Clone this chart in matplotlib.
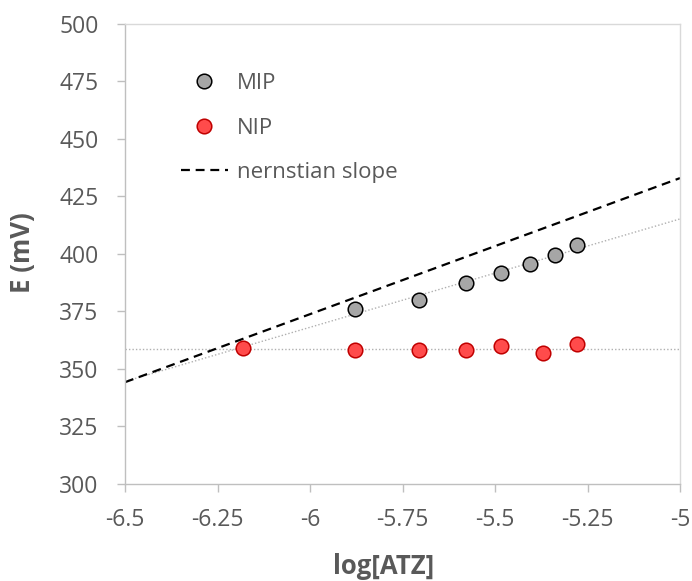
import numpy as np
import matplotlib
matplotlib.use("Agg")
import matplotlib.pyplot as plt
from matplotlib.lines import Line2D

plt.rcParams['font.family'] = ['Open Sans', 'DejaVu Sans']

# Data
mip_x = [-5.879, -5.705, -5.579, -5.483, -5.405, -5.338, -5.279]
mip_y = [376.0, 380.0, 387.3, 391.6, 395.7, 399.4, 403.9]
nip_x = [-6.180, -5.879, -5.705, -5.579, -5.483, -5.370, -5.279]
nip_y = [359.0, 358.3, 358.3, 358.3, 360.0, 356.8, 360.7]
nernst_slope = 59.16      # mV/decade
nernst_E_at_minus5 = 433.0
x_ticks = [-6.5, -6.25, -6, -5.75, -5.5, -5.25, -5]
x_tick_labels = ['-6.5', '-6.25', '-6', '-5.75', '-5.5', '-5.25', '-5']
y_ticks = [300, 325, 350, 375, 400, 425, 450, 475, 500]

text_col = '#595959'
fig = plt.figure(figsize=(6.92, 5.81), dpi=100)
ax = fig.add_axes([125/692, 1-484/581, 555/692, 460/581])

xr = np.array([-6.5, -5.0])
# trendlines
p_mip = np.polyfit(mip_x, mip_y, 1)
ax.plot(xr, np.polyval(p_mip, xr), color='#b0b0b0', lw=1.0, ls=(0, (1, 1.5)), zorder=1)
nip_mean = np.mean(nip_y)
ax.plot(xr, [nip_mean, nip_mean], color='#b0b0b0', lw=1.0, ls=(0, (1, 1.5)), zorder=1)
# nernstian slope
ax.plot(xr, nernst_E_at_minus5 + nernst_slope*(xr + 5), color='black', lw=1.6,
        ls=(0, (4, 2.6)), zorder=2)

ax.plot(mip_x, mip_y, 'o', ms=10.5, mfc='#a6a6a6', mec='black', mew=1.1, zorder=3)
ax.plot(nip_x, nip_y, 'o', ms=10.5, mfc='#ff4b4b', mec='#c00000', mew=1.1, zorder=3)

ax.set_xlim(-6.5, -5)
ax.set_ylim(300, 500)
ax.set_xticks(x_ticks)
ax.set_xticklabels(x_tick_labels)
ax.set_yticks(y_ticks)

for s in ['top', 'right']:
    ax.spines[s].set_color('#d9d9d9')
for s in ['left', 'bottom']:
    ax.spines[s].set_color('#bfbfbf')
for s in ax.spines.values():
    s.set_linewidth(1.0)
ax.tick_params(axis='both', direction='out', length=6, width=1.0, color='#bfbfbf',
               labelcolor=text_col, labelsize=16.5)
ax.tick_params(axis='y', pad=13)
ax.tick_params(axis='x', pad=11)

ax.set_xlabel('log[ATZ]', fontsize=18.5, fontweight='bold', color=text_col)
ax.xaxis.set_label_coords((384-125)/555, (484-553)/460)
ax.set_ylabel('E (mV)', fontsize=18.5, fontweight='bold', color=text_col)
ax.yaxis.set_label_coords((36-125)/555, 0.504)

handles = [
    Line2D([], [], ls='none', marker='o', ms=10.5, mfc='#a6a6a6', mec='black', mew=1.1),
    Line2D([], [], ls='none', marker='o', ms=10.5, mfc='#ff4b4b', mec='#c00000', mew=1.1),
    Line2D([], [], color='black', lw=1.6, ls=(0, (4, 2.6))),
]
leg = ax.legend(handles, ['MIP', 'NIP', 'nernstian slope'], loc='upper left',
                bbox_to_anchor=(56/555, 1-49/460), frameon=False, fontsize=16,
                handlelength=2.1, handletextpad=0.4, labelspacing=1.06,
                borderaxespad=0, borderpad=0)
for t in leg.get_texts():
    t.set_color(text_col)

fig.savefig('out.png', dpi=100)
